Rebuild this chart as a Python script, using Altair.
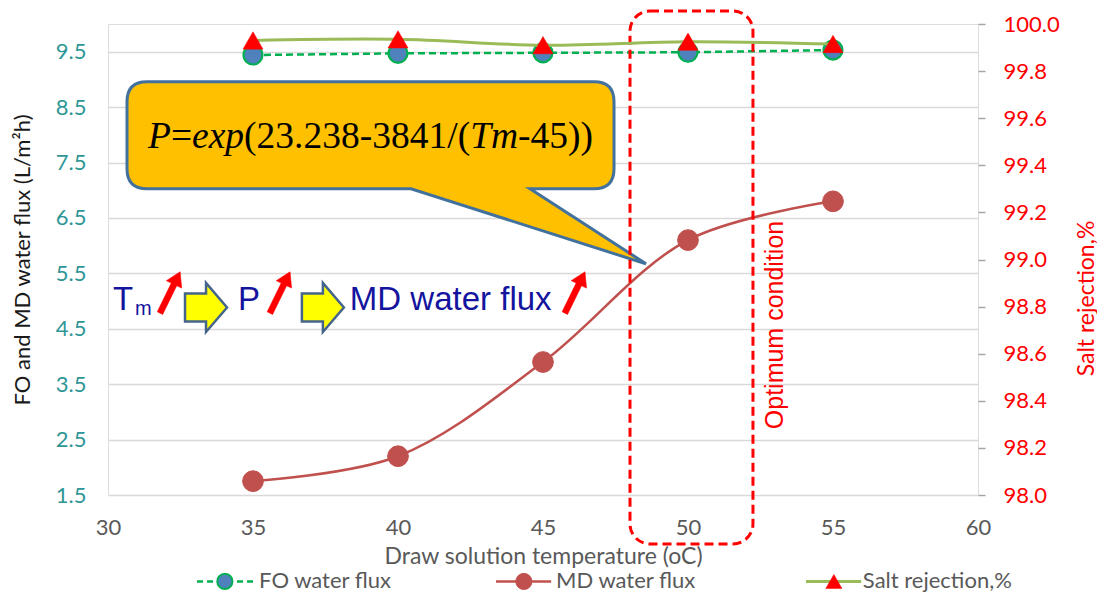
import altair as alt
import pandas as pd

# ---------------- data ----------------
temps = [35, 40, 45, 50, 55]
fo_flux = [9.44, 9.47, 9.48, 9.49, 9.53]
md_flux = [1.75, 2.2, 3.9, 6.1, 6.8]
salt_rej = [99.93, 99.935, 99.91, 99.925, 99.915]

x_ticks = [30, 35, 40, 45, 50, 55, 60]
left_ticks = [1.5, 2.5, 3.5, 4.5, 5.5, 6.5, 7.5, 8.5, 9.5]
right_ticks = [98.0, 98.2, 98.4, 98.6, 98.8, 99.0, 99.2, 99.4, 99.6, 99.8, 100.0]

series_names = ["FO water flux", "MD water flux", "Salt rejection,%"]
x_title = "Draw solution temperature (oC)"
left_title = "FO and MD water flux (L/m²h)"
right_title = "Salt rejection,%"
formula_parts = ["P", "=", "exp", "(23.238-3841/(", "Tm", "-45))"]
formula_italic = [True, False, True, False, True, False]
flow_words = ["T", "m", "P", "MD water flux"]
optimum_label = "Optimum condition"

# ---------------- layout / styles ----------------
W, H = 870, 471
FONT = "Lato"
xscale = alt.Scale(domain=[30, 60], nice=False, zero=False)
lscale = alt.Scale(domain=[1.5, 10.0], nice=False, zero=False)
rscale = alt.Scale(domain=[98.0, 100.0], nice=False, zero=False)

xaxis = alt.Axis(values=x_ticks, title=x_title, grid=False, domain=False, ticks=False,
                 tickSize=0, labelPadding=22, labelColor="#595959", labelFontSize=22,
                 labelFont=FONT, labelFlush=False, labelOverlap=False,
                 titleFont=FONT, titleFontSize=23, titleColor="#595959",
                 titleFontWeight="normal", titleX=W / 2, titleY=61,
                 titleBaseline="middle", titleAlign="center")
laxis = alt.Axis(values=left_ticks, format=".1f", title=left_title, grid=True,
                 gridColor="#D9D9D9", gridWidth=1.5, domain=False, ticks=False,
                 tickSize=0, labelPadding=22, labelColor="#2E9696", labelFontSize=22,
                 labelFont=FONT, labelFlush=False, labelOverlap=False,
                 titleFont=FONT, titleFontSize=22, titleColor="#1A1A1A",
                 titleFontWeight="normal", titleX=-86, titleY=235.5, titleAngle=270,
                 titleBaseline="middle", titleAlign="center")
raxis = alt.Axis(values=right_ticks, format=".1f", title=right_title, orient="right",
                 grid=False, domain=False, ticks=True, tickSize=7, tickWidth=1.5,
                 tickColor="#A6A6A6", labelPadding=18, labelColor="#FF0000",
                 labelFontSize=22, labelFont=FONT, labelFlush=False, labelOverlap=False,
                 labelAlign="left",
                 titleFont=FONT, titleFontSize=23, titleColor="#FF0000",
                 titleFontWeight="normal", titleX=108, titleY=274, titleAngle=270,
                 titleBaseline="middle", titleAlign="center")

X = alt.X("T:Q", scale=xscale, axis=xaxis)
def YL(field):
    return alt.Y(f"{field}:Q", scale=lscale, axis=laxis)
YR = alt.Y("r:Q", scale=rscale, axis=raxis)

series_df = pd.DataFrame({"T": temps, "fo": fo_flux, "md": md_flux, "r": salt_rej})

# ---------------- data series ----------------
fo_line = alt.Chart(series_df).mark_line(color="#00B050", strokeWidth=2.5,
                                         strokeDash=[7, 4]).encode(x=X, y=YL("fo"))
fo_pts = alt.Chart(series_df).mark_point(shape="circle", size=360, filled=True,
                                         fill="#4F81BD", stroke="#00B050",
                                         strokeWidth=2.2, opacity=1).encode(x=X, y=YL("fo"))
md_line = alt.Chart(series_df).mark_line(color="#C0504D", strokeWidth=2.5,
                                         interpolate="catmull-rom").encode(x=X, y=YL("md"))
md_pts = alt.Chart(series_df).mark_point(shape="circle", size=430, filled=True,
                                         fill="#C0504D", stroke="#C0504D",
                                         strokeWidth=1, opacity=1).encode(x=X, y=YL("md"))
salt_line = alt.Chart(series_df).mark_line(color="#9BBB59", strokeWidth=3,
                                           interpolate="catmull-rom").encode(x=X, y=YR)
salt_pts = alt.Chart(series_df).mark_point(shape="triangle-up", size=400, filled=True,
                                           fill="#FF0000", stroke="#FF0000",
                                           strokeWidth=0.5, opacity=1).encode(x=X, y=YR)

# ---------------- annotations ----------------
# dashed "optimum" box
box_df = pd.DataFrame({"T": [48.0], "T2": [52.24], "v": [10.235], "v2": [0.616]})
opt_box = alt.Chart(box_df).mark_rect(fillOpacity=0, stroke="#FF0000", strokeWidth=3,
                                      strokeDash=[9, 5], cornerRadius=20).encode(
    x=X, x2="T2:Q", y=YL("v"), y2="v2:Q")

opt_df = pd.DataFrame({"T": [53.0], "v": [4.568], "label": [optimum_label]})
opt_text = alt.Chart(opt_df).mark_text(angle=270, align="center", baseline="middle",
                                       font="Liberation Sans", fontSize=25,
                                       color="#FF0000").encode(x=X, y=YL("v"), text="label:N")

# callout bubble (custom symbol path, 1 unit = 1 px with size=4)
callout_path = ("M -222,-53 L 225,-53 Q 245,-53 245,-33 L 245,34 Q 245,54 225,54 "
                "L 161,54 L 277,129 L 42,54 L -222,54 Q -242,54 -242,34 "
                "L -242,-33 Q -242,-53 -222,-53 Z")
call_df = pd.DataFrame({"T": [39.0], "v": [8.0]})
callout = alt.Chart(call_df).mark_point(shape=callout_path, size=4, filled=True,
                                        fill="#FFC000", stroke="#41719C",
                                        strokeWidth=3, opacity=1).encode(x=X, y=YL("v"))

fs = 37.5
adv = [611, 564, 1388, 6027, 1278, 1999]
formula_layers = []
cum = -221.0
for part, ital, a in zip(formula_parts, formula_italic, adv):
    pdf = pd.DataFrame({"T": [39.0], "v": [8.0], "txt": [part]})
    formula_layers.append(
        alt.Chart(pdf).mark_text(align="left", baseline="alphabetic",
                                 font="Liberation Serif", fontSize=fs,
                                 fontStyle="italic" if ital else "normal",
                                 color="#000000", dx=cum, dy=13.5).encode(
            x=X, y=YL("v"), text="txt:N"))
    cum += a / 1000 * fs

# flow diagram: T_m ↑ ⇒ P ↑ ⇒ MD water flux ↑
NAVY = "#14149E"
flow_df = pd.DataFrame({"T": [30.17, 34.48, 38.34], "v": [4.84, 4.84, 4.84],
                        "txt": [flow_words[0], flow_words[2], flow_words[3]]})
flow_text = alt.Chart(flow_df).mark_text(align="left", baseline="alphabetic",
                                         font="Liberation Sans", fontSize=33,
                                         color=NAVY).encode(x=X, y=YL("v"), text="txt:N")
sub_df = pd.DataFrame({"T": [30.93], "v": [4.75], "txt": [flow_words[1]]})
sub_text = alt.Chart(sub_df).mark_text(align="left", baseline="alphabetic",
                                       font="Liberation Sans", fontSize=20,
                                       color=NAVY).encode(x=X, y=YL("v"), text="txt:N")

red_arrow_path = "M -3,23 L -3,-9 L -8.5,-9 L 0,-23 L 8.5,-9 L 3,-9 L 3,23 Z"
ra_df = pd.DataFrame({"T": [32.14, 35.93, 46.10], "v": [5.155, 5.155, 5.155]})
red_arrows = alt.Chart(ra_df).mark_point(shape=red_arrow_path, size=4, angle=26,
                                         filled=True, fill="#FF0000", stroke="#FF0000",
                                         strokeWidth=0.5, opacity=1).encode(x=X, y=YL("v"))

block_arrow_path = "M -21,-14 L 0,-14 L 0,-24.5 L 21,0 L 0,24.5 L 0,14 L -21,14 Z"
ya_df = pd.DataFrame({"T": [33.38, 37.41], "v": [4.884, 4.884]})
yellow_arrows = alt.Chart(ya_df).mark_point(shape=block_arrow_path, size=4, filled=True,
                                            fill="#FFFF00", stroke="#44648C",
                                            strokeWidth=2.5, opacity=1).encode(x=X, y=YL("v"))

# ---------------- custom legend (below the axis title) ----------------
LEG_V = -0.06
leg_fo_line = alt.Chart(pd.DataFrame({"T": [33.07, 35.0], "v": [LEG_V, LEG_V]})).mark_line(
    color="#00B050", strokeWidth=2.5, strokeDash=[6, 4]).encode(x=X, y=YL("v"))
leg_md_line = alt.Chart(pd.DataFrame({"T": [43.38, 45.28], "v": [LEG_V, LEG_V]})).mark_line(
    color="#C0504D", strokeWidth=2.5).encode(x=X, y=YL("v"))
leg_salt_line = alt.Chart(pd.DataFrame({"T": [54.07, 55.97], "v": [LEG_V, LEG_V]})).mark_line(
    color="#9BBB59", strokeWidth=3).encode(x=X, y=YL("v"))
leg_fo_pt = alt.Chart(pd.DataFrame({"T": [34.03], "v": [LEG_V]})).mark_point(
    shape="circle", size=230, filled=True, fill="#4F81BD", stroke="#00B050",
    strokeWidth=2, opacity=1).encode(x=X, y=YL("v"))
leg_md_pt = alt.Chart(pd.DataFrame({"T": [44.34], "v": [LEG_V]})).mark_point(
    shape="circle", size=260, filled=True, fill="#C0504D", stroke="#C0504D",
    strokeWidth=1, opacity=1).encode(x=X, y=YL("v"))
leg_salt_pt = alt.Chart(pd.DataFrame({"T": [55.03], "v": [LEG_V]})).mark_point(
    shape="triangle-up", size=260, filled=True, fill="#FF0000", stroke="#FF0000",
    strokeWidth=0.5, opacity=1).encode(x=X, y=YL("v"))
leg_text = alt.Chart(pd.DataFrame({"T": [35.21, 45.45, 56.03], "v": [LEG_V] * 3,
                                   "label": series_names})).mark_text(
    align="left", baseline="middle", font=FONT, fontSize=22, color="#595959").encode(
    x=X, y=YL("v"), text="label:N")

left = alt.layer(
    fo_line, md_line, md_pts, fo_pts,
    callout, *formula_layers,
    yellow_arrows, red_arrows, flow_text, sub_text,
    opt_box, opt_text,
    leg_fo_line, leg_md_line, leg_salt_line, leg_fo_pt, leg_md_pt, leg_salt_pt, leg_text,
)
right = alt.layer(salt_line, salt_pts)

chart = alt.layer(left, right).resolve_scale(y="independent").properties(
    width=W, height=H,
    autosize=alt.AutoSizeParams(type="none"),
    padding={"left": 100, "top": 16, "right": 119, "bottom": 100},
).configure_view(stroke="#4D4D4D", strokeWidth=3).configure(background="white")

chart.save("out.html", embed_options={"renderer": "svg", "actions": False})
